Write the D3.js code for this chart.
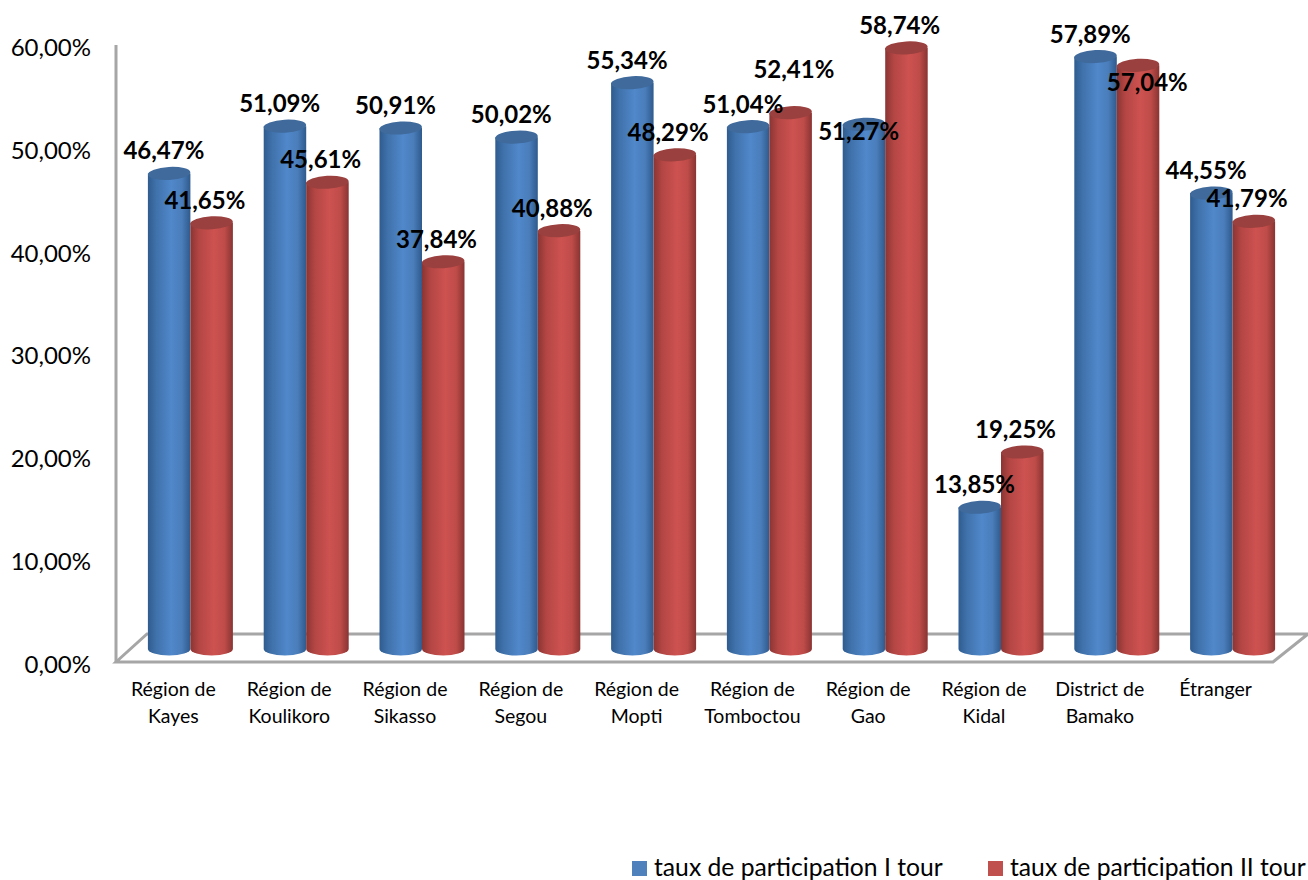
<!DOCTYPE html>
<html lang="en">

<head>
  <meta charset="utf-8">
  <title>Taux de participation</title>
  <script type="text/javascript" src="https://d3js.org/d3.v7.min.js"></script>
  <style>
    html, body { margin: 0; padding: 0; background: #fff; }
    svg { display: block; }
    text { font-family: Lato, "Open Sans", sans-serif; fill: #000; }
  </style>
</head>

<body>
  <div class="chart"></div>

  <script type="text/javascript">
    var regions = [
      ['Région de', 'Kayes'], ['Région de', 'Koulikoro'], ['Région de', 'Sikasso'],
      ['Région de', 'Segou'], ['Région de', 'Mopti'], ['Région de', 'Tomboctou'],
      ['Région de', 'Gao'], ['Région de', 'Kidal'], ['District de', 'Bamako'], ['Étranger']
    ];
    var tour1 = [46.47, 51.09, 50.91, 50.02, 55.34, 51.04, 51.27, 13.85, 57.89, 44.55];
    var tour2 = [41.65, 45.61, 37.84, 40.88, 48.29, 52.41, 58.74, 19.25, 57.04, 41.79];
    var yTicks = [0, 10, 20, 30, 40, 50, 60];
    var legendLabels = ['taux de participation I tour', 'taux de participation II tour'];

    var w = 1308,
      h = 880;

    var fmt = function(v) {
      return v.toFixed(2).replace('.', ',') + '%';
    };

    var svg = d3.select('.chart')
      .append('svg')
      .attr('width', w)
      .attr('height', h);

    // horizontal shading for the cylinders
    var defs = svg.append('defs');
    var shade = function(id, stops) {
      var g = defs.append('linearGradient').attr('id', id);
      stops.forEach(function(s) {
        g.append('stop').attr('offset', s[0]).attr('stop-color', s[1]);
      });
    };
    shade('blue', [[0, '#2f5c8f'], [0.2, '#4072ab'], [0.55, '#5088cb'], [0.8, '#4a7dba'], [1, '#2f5a8c']]);
    shade('red', [[0, '#8a3533'], [0.2, '#b34644'], [0.55, '#cd5250'], [0.8, '#bf4c49'], [1, '#893432']]);

    var x = d3.scaleBand()
      .domain(d3.range(regions.length))
      .range([116, 1274]);

    // wall axis and the shifted scale the cylinders stand on
    var y = d3.scaleLinear().domain([0, 60]).range([662, 45]);
    var yBar = d3.scaleLinear().domain([0, 60]).range([649, 35]);

    var barX = d3.scaleBand().domain([0, 1]).range([0, 85]);
    var depth = 16.5;

    // floor
    var grey = '#a6a6a6';
    svg.append('path')
      .attr('d', 'M116,662 L147,634 L1308,634 L1273,662 Z')
      .attr('fill', '#fff')
      .attr('stroke', grey)
      .attr('stroke-width', 3);
    svg.append('line')
      .attr('x1', 116).attr('x2', 116)
      .attr('y1', y(60)).attr('y2', y(0))
      .attr('stroke', grey)
      .attr('stroke-width', 3);

    svg.selectAll('.tick')
      .data(yTicks)
      .enter()
      .append('text')
      .attr('class', 'tick')
      .attr('x', 91)
      .attr('y', function(d) { return y(d) + 2.5; })
      .attr('dy', '0.35em')
      .attr('text-anchor', 'end')
      .style('font-size', '24px')
      .text(function(d) { return fmt(d); });

    // cylinders
    var drawBar = function(val, i, s, fill, top) {
      var left = x(i) + (x.bandwidth() - 85) / 2 + depth + barX(s);
      var bw = barX.bandwidth();
      var rx = bw / 2;
      var ry = 6.5;
      var g = svg.append('g');
      g.append('path')
        .attr('d', 'M' + left + ',' + yBar(val) +
          ' L' + left + ',' + yBar(0) +
          ' A' + rx + ',' + ry + ' 0 0 0 ' + (left + bw) + ',' + yBar(0) +
          ' L' + (left + bw) + ',' + yBar(val) + ' Z')
        .attr('fill', 'url(#' + fill + ')');
      g.append('ellipse')
        .attr('cx', left + rx)
        .attr('cy', yBar(val))
        .attr('rx', rx)
        .attr('ry', ry)
        .attr('transform', 'rotate(-3 ' + (left + rx) + ' ' + yBar(val) + ')')
        .attr('fill', top);
    };

    regions.forEach(function(r, i) {
      drawBar(tour1[i], i, 0, 'blue', '#3f6a9b');
      drawBar(tour2[i], i, 1, 'red', '#9a403e');
    });

    // value labels sit above the bars, a few are nudged as in the original
    var nudge1 = { 6: [0, 30] };
    var nudge2 = { 5: [10, -21], 8: [16, 40] };
    var drawValues = function(vals, dx, nudge) {
      svg.selectAll(null)
        .data(vals)
        .enter()
        .append('text')
        .attr('x', function(d, i) {
          return x(i) + x.bandwidth() / 2 + dx + (nudge[i] ? nudge[i][0] : 0);
        })
        .attr('y', function(d, i) {
          return yBar(d) - 14 + (nudge[i] ? nudge[i][1] : 0);
        })
        .attr('text-anchor', 'middle')
        .style('font-size', '24px')
        .style('font-weight', 700)
        .text(fmt);
    };
    drawValues(tour1, -10, nudge1);
    drawValues(tour2, 31, nudge2);

    // category labels
    regions.forEach(function(r, i) {
      var t = svg.append('text')
        .attr('text-anchor', 'middle')
        .style('font-size', '19.5px');
      r.forEach(function(line, k) {
        t.append('tspan')
          .attr('x', x(i) + x.bandwidth() / 2 - 0.5)
          .attr('y', 696 + k * 27)
          .text(line);
      });
    });

    // legend
    var legendX = [632, 988];
    var colors = ['#4f81bd', '#c0504d'];
    legendLabels.forEach(function(l, i) {
      svg.append('rect')
        .attr('x', legendX[i])
        .attr('y', 861)
        .attr('width', 15)
        .attr('height', 15)
        .attr('fill', colors[i]);
      svg.append('text')
        .attr('x', legendX[i] + 22)
        .attr('y', 876)
        .style('font-size', '24.7px')
        .text(l);
    });
  </script>

</body>

</html>
